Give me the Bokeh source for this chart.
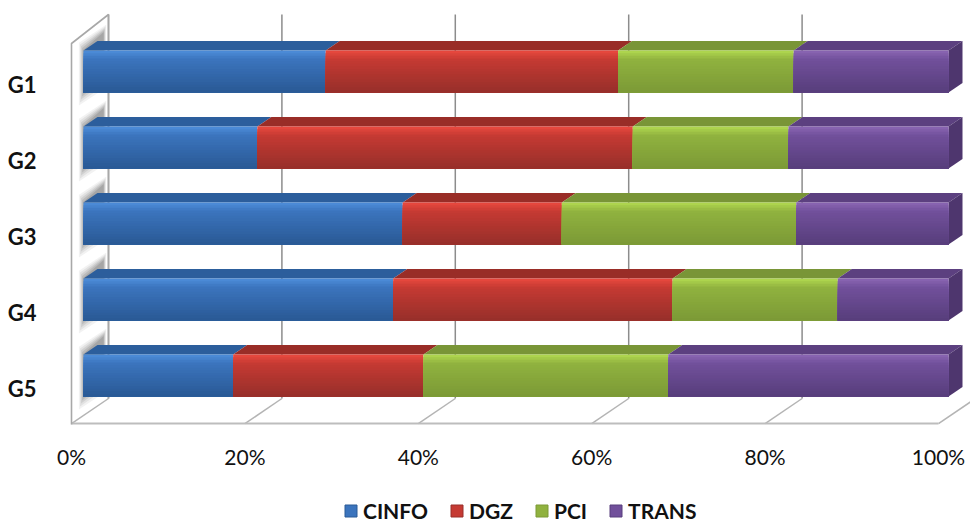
from bokeh.plotting import figure
from bokeh.models import Range1d, LinearAxis, FixedTicker, Legend, LegendItem
from bokeh.core.properties import value
from bokeh.embed import file_html
from bokeh.resources import INLINE

groups = ["G1", "G2", "G3", "G4", "G5"]
series = ["CINFO", "DGZ", "PCI", "TRANS"]
CINFO = [28.0, 20.1, 36.9, 35.8, 17.3]
DGZ = [33.8, 43.4, 18.4, 32.3, 22.0]
PCI = [20.3, 18.0, 27.1, 19.1, 28.3]
TRANS = [17.9, 18.5, 17.6, 12.8, 32.4]
values = [CINFO, DGZ, PCI, TRANS]
x_ticks = [0, 20, 40, 60, 80, 100]

# face colours: (gradient top, gradient middle, gradient bottom, top face, side face)
palette = [
    ("#4b8ad6", "#3b74bd", "#2a5a96", "#2c5e9c", "#24507f"),
    ("#e5473d", "#c53a33", "#982f2a", "#992d27", "#7f2622"),
    ("#add44e", "#90b23f", "#7c9a36", "#799537", "#66802e"),
    ("#8763b0", "#71509b", "#583e7c", "#5c4080", "#4e366e"),
]

PX_X = 8.67    # pixels per percent
PX_Y = 76.0    # pixels per row
BAR_SCALE = 865 / 867  # the bars lie on a plane a little behind the axis
FRAME_LEFT = 48

p = figure(width=970, height=523, frame_width=970 - FRAME_LEFT, frame_height=523,
           output_backend="svg", toolbar_location=None,
           x_range=Range1d((FRAME_LEFT - 71) / PX_X, (970 - 71) / PX_X),
           y_range=Range1d((523 - 84) / PX_Y, -84 / PX_Y),
           x_axis_location=None, y_axis_location=None,
           min_border_left=FRAME_LEFT, min_border_right=0, min_border_top=0, min_border_bottom=0)
p.styles = {"position": "absolute", "left": "0px", "top": "0px"}
p.outline_line_color = None
p.xgrid.visible = False
p.ygrid.visible = False
p.background_fill_color = "white"


def hx(px):
    return px / PX_X


def vy(px):
    return px / PX_Y


FLOOR = (424 - 84) / PX_Y
WALL_DX, WALL_DY = hx(37), vy(26)
WALL_TOP_FRONT = (43 - 84) / PX_Y
WALL_TOP_BACK = (14 - 84) / PX_Y

# grid on the back wall and floor
p.segment([v + WALL_DX for v in x_ticks], [WALL_TOP_BACK] * 6,
          [v + WALL_DX for v in x_ticks], [FLOOR - WALL_DY] * 6,
          line_color="#8c8c8c", line_width=1.5)
p.segment(x_ticks, [FLOOR - 0.01] * 6, [v + WALL_DX for v in x_ticks], [FLOOR - WALL_DY] * 6,
          line_color="#b4b4b4", line_width=1.5)
# floor front edge and side wall
p.line([0, 100], [FLOOR - 0.012] * 2, line_color="#bdbdbd", line_width=2)
p.line([0, 0, WALL_DX, WALL_DX],
       [FLOOR, WALL_TOP_FRONT, WALL_TOP_BACK, FLOOR - WALL_DY],
       line_color="#a8a8a8", line_width=1.6)

OFF_X = hx(12)          # bar plane inset from the front edge
BAR_SHIFT = vy(-13)     # bar centre relative to its label
BAR_H = vy(21)
DEPTH_X, DEPTH_Y = hx(14), vy(9.5)

# soft shadow on the side wall
for e, a in [(13, 0.08), (10, 0.10), (7, 0.13), (4, 0.16), (1, 0.20)]:
    for i in range(len(groups)):
        c = i + BAR_SHIFT
        l = OFF_X - hx(e * 0.35)
        r = OFF_X + hx(20 + e * 0.2)
        t = c - BAR_H - vy(e * 0.6)
        b = c + BAR_H + vy(e)
        p.patch([l, r, r, l],
                [t, t - vy(18), b - vy(18), b],
                fill_color="#555555", fill_alpha=a, line_color=None)

STRIPS = 16


def blend(c1, c2, t):
    a = [int(c1[k:k + 2], 16) for k in (1, 3, 5)]
    b = [int(c2[k:k + 2], 16) for k in (1, 3, 5)]
    return "#%02x%02x%02x" % tuple(round(a[k] + (b[k] - a[k]) * t) for k in range(3))


legend_items = []
lefts = [0.0] * len(groups)
for s, name in enumerate(series):
    top_c, mid_c, bot_c, roof_c, side_c = palette[s]
    ql, qr, qt, qb, qc = [], [], [], [], []
    for i in range(len(groups)):
        l = lefts[i] * BAR_SCALE + OFF_X
        r = (lefts[i] + values[s][i]) * BAR_SCALE + OFF_X
        c = i + BAR_SHIFT
        # top face
        p.patch([l, l + DEPTH_X, r + DEPTH_X, r],
                [c - BAR_H, c - BAR_H - DEPTH_Y, c - BAR_H - DEPTH_Y, c - BAR_H],
                fill_color=roof_c, line_color=None)
        # right end face of the whole bar
        if s == len(series) - 1:
            p.patch([r, r + DEPTH_X, r + DEPTH_X, r],
                    [c - BAR_H, c - BAR_H - DEPTH_Y, c + BAR_H - DEPTH_Y, c + BAR_H],
                    fill_color=side_c, line_color=None)
        # front face as graded strips, each running down to the bar's foot
        h = 2 * BAR_H / STRIPS
        for k in range(STRIPS):
            t = k / (STRIPS - 1)
            col = blend(top_c, mid_c, min(1, t * 5)) if t < 0.2 else blend(mid_c, bot_c, (t - 0.2) / 0.8)
            ql.append(l)
            qr.append(r)
            qt.append(c - BAR_H + k * h)
            qb.append(c + BAR_H)
            qc.append(col)
        lefts[i] += values[s][i]
    p.quad(left=ql, right=qr, top=qt, bottom=qb, fill_color=qc, line_color=None)
    key = p.quad(left=[-60], right=[-50], top=[-3], bottom=[-2], fill_color=mid_c, line_color=bot_c, line_width=1)
    legend_items.append(LegendItem(label=name, renderers=[key]))

# percent labels under the floor
p.text(x=x_ticks, y=[(456 - 84) / PX_Y] * len(x_ticks), text=[f"{v}%" for v in x_ticks],
       text_align="center", text_baseline="middle", text_font=value("Lato"),
       text_font_size="21px", text_color="#111111")

yaxis = LinearAxis(ticker=FixedTicker(ticks=list(range(len(groups)))),
                   major_label_overrides={i: g for i, g in enumerate(groups)})
yaxis.axis_line_color = None
yaxis.major_tick_line_color = None
yaxis.minor_tick_line_color = None
yaxis.major_label_standoff = 6
yaxis.major_label_text_font = "Lato"
yaxis.major_label_text_font_style = "bold"
yaxis.major_label_text_font_size = "22px"
yaxis.major_label_text_color = "#111111"
p.add_layout(yaxis, "left")

legend = Legend(items=legend_items, orientation="horizontal", location=(295, 0),
                border_line_color=None, background_fill_alpha=0,
                glyph_width=15, glyph_height=15, label_standoff=5, spacing=21,
                padding=0, margin=0,
                label_text_font="Lato", label_text_font_style="bold",
                label_text_font_size="21px", label_text_color="#111111")
p.add_layout(legend)

open("out.html", "w").write(file_html(p, INLINE))
